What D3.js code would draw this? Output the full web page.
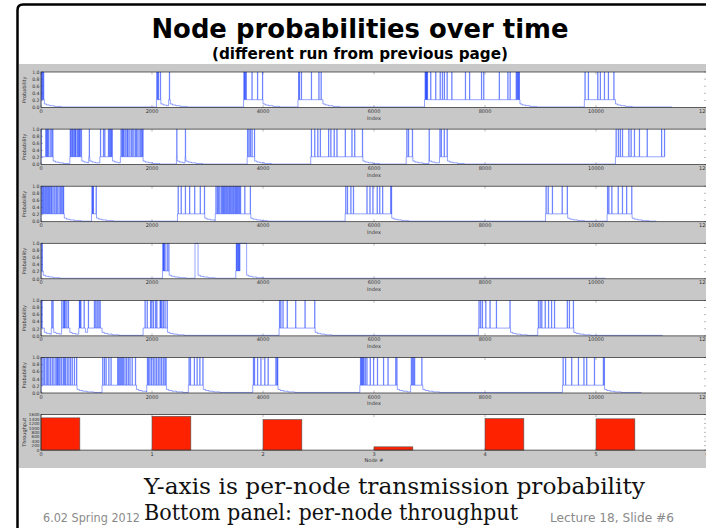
<!DOCTYPE html>
<html>
<head>
<meta charset="utf-8">
<title>Node probabilities over time</title>
<script src="https://cdn.jsdelivr.net/npm/d3@7"></script>
<style>
  body { margin: 0; background: #fff; }
  svg { display: block; }
</style>
</head>
<body>
<svg id="chart" width="706" height="528"></svg>
<script>
// axis ticks
const indexTicks = [0, 2000, 4000, 6000, 8000, 10000, 12000];
const probTicks = [0, 0.2, 0.4, 0.6, 0.8, 1.0];
const nodeTicks = [0, 1, 2, 3, 4, 5, 6];
const throughputTicks = [0, 200, 400, 600, 800, 1000, 1200, 1400, 1600];

// bottom panel: per-node throughput
const throughput = [1453, 1524, 1378, 147, 1422, 1409];

// levels
const floorLevel = 0.22;   // level between spikes inside a busy period
const baseLevel = 0.015;   // idle level
const spikeLen = 6;        // indices a spike stays at 1.0
const tailSteps = [[0, 0.1], [40, 0.07], [100, 0.05], [180, 0.03], [300, 0.015]];

// busy periods [start, end, level?] and spikes (index where p hits 1.0), per node
const node0Bursts = [[0, 60], [2080, 2160], [2300, 2330], [3650, 4000], [4630, 5080], [6910, 8630], [9790, 10350]];
const node0Spikes = [0, 15, 30, 45, 2085, 2100, 2115, 2150, 2312, 3655, 3665, 3680, 3695, 3800, 3900, 3990,
  4640, 4655, 4690, 4870, 5005, 5045, 6920, 6930, 6940, 6950, 6960, 7020, 7110, 7190, 7230, 7265, 7315, 7400,
  7645, 7720, 7935, 7975, 8255, 8410, 8450, 8560, 8575, 8590, 8605, 8615, 9800, 9860, 10030, 10075, 10150, 10220, 10320];

const node1Bursts = [[0, 220], [520, 735], [860, 880], [1060, 1290], [1430, 1840], [2440, 2455], [2595, 2610],
  [3715, 3850], [4860, 5800], [6580, 6700], [6990, 7000], [7180, 7325], [10350, 11240]];
const node1Spikes = [0, 84, 100, 114, 130, 162, 192, 210, 525, 540, 560, 575, 596, 615, 627, 655, 673, 690, 703, 726,
  868, 1070, 1123, 1147, 1213, 1230, 1250, 1265, 1280, 1440, 1460, 1475, 1490, 1515, 1545, 1560, 1585, 1620, 1640,
  1670, 1700, 1720, 1745, 1780, 1800, 1820, 1835, 2445, 2600, 3720, 3745, 3770, 3800, 3845, 4870, 4930, 4985, 5030,
  5180, 5220, 5280, 5330, 5480, 5600, 5650, 5790, 6590, 6620, 6690, 6992, 7186, 7210, 7263, 7316,
  10360, 10400, 10435, 10475, 10590, 10630, 10690, 10780, 10920, 11180, 11232];

const node2Bursts = [[0, 420], [910, 1000], [2460, 2950], [3140, 3780], [5480, 6320], [9090, 9490], [10200, 10650]];
const node2Spikes = [0, 20, 38, 55, 76, 95, 115, 135, 153, 175, 191, 215, 245, 270, 290, 321, 345, 367, 390, 405,
  917, 930, 940, 992, 2469, 2523, 2599, 2676, 2767, 2867, 2943, 3150, 3175, 3196, 3220, 3249, 3270, 3287, 3305,
  3326, 3345, 3364, 3385, 3402, 3420, 3440, 3460, 3478, 3500, 3517, 3535, 3555, 3575, 3593, 3670, 3769,
  5489, 5520, 5581, 5627, 5871, 5925, 5978, 6055, 6101, 6154, 6300, 6313, 9098, 9136, 9212, 9388, 9480,
  10206, 10229, 10283, 10397, 10474, 10550, 10642];

const node3Bursts = [[0, 40], [2190, 2310], [2775, 2830, 1], [3510, 3585], [3585, 3705, 1]];
const node3Spikes = [0, 20, 2194, 2205, 2215, 2232, 2271, 2301, 3517, 3530, 3545, 3560, 3572];

const node4Bursts = [[0, 60], [185, 230], [370, 520], [680, 800], [840, 1100], [1840, 2280], [4290, 4940],
  [7880, 8460], [8950, 9600]];
const node4Spikes = [0, 15, 193, 214, 373, 402, 420, 432, 463, 492, 690, 700, 715, 775, 852, 960, 985, 1010, 1040,
  1063, 1873, 1911, 1972, 1995, 2026, 2064, 2085, 2144, 2156, 2175, 2202, 2232, 2271, 4296, 4319, 4358, 4434,
  4587, 4755, 4930, 7890, 7920, 7951, 8012, 8088, 8203, 8448, 8960, 8991, 9021, 9082, 9143, 9197, 9250, 9480,
  9518, 9590];

const node5Bursts = [[0, 650], [1100, 1720], [1905, 2260], [2655, 2925], [3815, 4270], [5745, 6420], [6660, 6880],
  [9395, 10155]];
const node5Spikes = [10, 35, 60, 90, 115, 140, 170, 200, 230, 265, 285, 300, 320, 340, 370, 400, 420, 440, 470,
  500, 530, 560, 600, 640, 1110, 1140, 1170, 1220, 1260, 1380, 1400, 1420, 1440, 1460, 1480, 1510, 1540, 1570,
  1600, 1640, 1700, 1915, 1935, 1960, 1990, 2020, 2050, 2080, 2110, 2140, 2170, 2200, 2230, 2250,
  2665, 2690, 2760, 2810, 2860, 2915, 3825, 3845, 3900, 3960, 4030, 4090, 4230, 4250, 4262,
  5755, 5770, 5785, 5800, 5815, 5840, 5870, 5930, 5990, 6060, 6170, 6250, 6390, 6410,
  6670, 6690, 6710, 6730, 6860, 9405, 9450, 9560, 9680, 9780, 9830, 9970, 10130, 10148];

// last index drawn for each node
const nodeEnds = [11370, 11240, 11085, 10170, 11200, 10820];

const allBursts = [node0Bursts, node1Bursts, node2Bursts, node3Bursts, node4Bursts, node5Bursts];
const allSpikes = [node0Spikes, node1Spikes, node2Spikes, node3Spikes, node4Spikes, node5Spikes];

// ---- layout ----
const svg = d3.select('#chart');
const plotLeft = 41, plotRight = 707;
const panelTop0 = 72, panelStep = 57.1, panelH = 35.5;
const tickFont = 'DejaVu Sans';

// turn bursts + spikes into a step series
function buildTrace(bursts, spikes, end) {
  const pts = [[0, baseLevel]];
  bursts.forEach(function(b, i) {
    const s = b[0], e = b[1];
    const lvl = b.length > 2 ? b[2] : floorLevel;
    const next = i + 1 < bursts.length ? bursts[i + 1][0] : end;
    pts.push([s, lvl]);
    spikes.filter(t => t >= s && t < e).forEach(t => {
      pts.push([t, 1]);
      pts.push([Math.min(t + spikeLen, e), lvl]);
    });
    tailSteps.forEach(function(ts) {
      if (e + ts[0] < next) pts.push([e + ts[0], ts[1]]);
    });
  });
  pts.push([end, pts[pts.length - 1][1]]);
  return pts;
}

// slide frame + gray figure area
svg.append('rect').attr('x', 19).attr('y', 64).attr('width', 690).attr('height', 404).attr('fill', '#c8c8c8');
svg.append('path')
  .attr('d', 'M17.5,530 L17.5,10 Q17.5,4.5 23,4.5 L710,4.5')
  .attr('fill', 'none').attr('stroke', '#000').attr('stroke-width', 2.5);

svg.append('text').attr('x', 360).attr('y', 38).attr('text-anchor', 'middle')
  .style('font-family', 'DejaVu Sans').style('font-weight', 'bold').style('font-size', '26px')
  .attr('textLength', 417).attr('lengthAdjust', 'spacingAndGlyphs')
  .text('Node probabilities over time');
svg.append('text').attr('x', 360).attr('y', 59).attr('text-anchor', 'middle')
  .style('font-family', 'DejaVu Sans').style('font-weight', 'bold').style('font-size', '15px')
  .attr('textLength', 296).attr('lengthAdjust', 'spacingAndGlyphs')
  .text('(different run from previous page)');

function drawFrame(g, x, y, top, bottom, xt, yt, xFmt, yFmt, xName, yName, yLabelSize) {
  g.append('rect').attr('x', plotLeft).attr('y', top).attr('width', plotRight - plotLeft).attr('height', bottom - top)
    .attr('fill', '#fff');
  // inward ticks, left/right and top/bottom
  yt.forEach(v => {
    g.append('line').attr('x1', plotLeft).attr('x2', plotLeft + 2).attr('y1', y(v)).attr('y2', y(v))
      .attr('stroke', '#777').attr('stroke-width', 0.5);
    g.append('line').attr('x1', plotRight - 3).attr('x2', plotRight).attr('y1', y(v)).attr('y2', y(v))
      .attr('stroke', '#777').attr('stroke-width', 0.5);
    g.append('text').attr('x', plotLeft - 1.5).attr('y', y(v) + 1.7).attr('text-anchor', 'end')
      .style('font-family', tickFont).style('font-size', yLabelSize + 'px').attr('fill', '#333').text(yFmt(v));
  });
  xt.forEach(v => {
    g.append('line').attr('x1', x(v)).attr('x2', x(v)).attr('y1', bottom).attr('y2', bottom - 2.5)
      .attr('stroke', '#777').attr('stroke-width', 0.5);
    g.append('line').attr('x1', x(v)).attr('x2', x(v)).attr('y1', top).attr('y2', top + 2.5)
      .attr('stroke', '#777').attr('stroke-width', 0.5);
    // the last label sits on the right edge and is cut off, as on the slide
    g.append('text').attr('x', x(v)).attr('y', bottom + 5.5).attr('text-anchor', 'middle')
      .style('font-family', tickFont).style('font-size', '5px').attr('fill', '#333').text(xFmt(v));
  });
  g.append('text').attr('x', x.range()[0] + 333).attr('y', bottom + 12).attr('text-anchor', 'middle')
    .style('font-family', tickFont).style('font-size', '5px').attr('fill', '#333').text(xName);
  g.append('text').attr('transform', 'translate(26,' + ((top + bottom) / 2) + ') rotate(-90)')
    .attr('text-anchor', 'middle').style('font-family', tickFont).style('font-size', '5px').attr('fill', '#333')
    .text(yName);
}

const xIdx = d3.scaleLinear().domain([0, 12000]).range([plotLeft, plotRight]);
const line = d3.line().curve(d3.curveStepAfter);

allBursts.forEach(function(bursts, k) {
  const top = panelTop0 + k * panelStep, bottom = top + panelH;
  const y = d3.scaleLinear().domain([0, 1]).range([bottom, top]);
  const g = svg.append('g');
  drawFrame(g, xIdx, y, top, bottom, indexTicks, probTicks, d3.format('d'), d3.format('.1f'), 'Index', 'Probability', 4.6);

  const clipId = 'clip' + k;
  g.append('clipPath').attr('id', clipId).append('rect')
    .attr('x', plotLeft).attr('y', top - 1).attr('width', plotRight - plotLeft).attr('height', panelH + 1);
  const trace = buildTrace(bursts, allSpikes[k], nodeEnds[k]);
  g.append('path').attr('clip-path', 'url(#' + clipId + ')')
    .attr('d', line.x(d => xIdx(d[0])).y(d => y(d[1]))(trace))
    .attr('fill', 'none').attr('stroke', '#1a3cff').attr('stroke-width', 0.55).attr('stroke-opacity', 0.85);

  g.append('rect').attr('x', plotLeft).attr('y', top).attr('width', plotRight - plotLeft).attr('height', panelH)
    .attr('fill', 'none').attr('stroke', '#222').attr('stroke-width', 0.7);
});

// throughput panel
(function() {
  const top = panelTop0 + 6 * panelStep, bottom = top + panelH;
  const x = d3.scaleLinear().domain([0, 6]).range([plotLeft, plotRight]);
  const y = d3.scaleLinear().domain([0, 1600]).range([bottom, top]);
  const g = svg.append('g');
  drawFrame(g, x, y, top, bottom, nodeTicks, throughputTicks, d3.format('d'), d3.format('d'), 'Node #', 'Throughput', 4.2);
  g.selectAll('rect.bar').data(throughput).enter().append('rect').attr('class', 'bar')
    .attr('x', (d, i) => x(i)).attr('width', x(0.35) - x(0))
    .attr('y', d => y(d)).attr('height', d => bottom - y(d))
    .attr('fill', '#ff2200').attr('stroke', '#555').attr('stroke-width', 0.6);
  g.append('rect').attr('x', plotLeft).attr('y', top).attr('width', plotRight - plotLeft).attr('height', panelH)
    .attr('fill', 'none').attr('stroke', '#222').attr('stroke-width', 0.7);
})();

// caption + footer
svg.append('text').attr('x', 144).attr('y', 494)
  .style('font-family', 'DejaVu Serif').style('font-size', '22px').attr('fill', '#111')
  .attr('textLength', 501).attr('lengthAdjust', 'spacingAndGlyphs')
  .text('Y-axis is per-node transmission probability');
svg.append('text').attr('x', 144).attr('y', 520)
  .style('font-family', 'DejaVu Serif').style('font-size', '22px').attr('fill', '#111')
  .attr('textLength', 374).attr('lengthAdjust', 'spacingAndGlyphs')
  .text('Bottom panel: per-node throughput');
svg.append('text').attr('x', 43).attr('y', 522)
  .style('font-family', 'DejaVu Sans').style('font-size', '11.5px').attr('fill', '#8a8a8a')
  .attr('textLength', 97).attr('lengthAdjust', 'spacingAndGlyphs')
  .text('6.02 Spring 2012');
svg.append('text').attr('x', 550).attr('y', 522)
  .style('font-family', 'DejaVu Sans').style('font-size', '11.5px').attr('fill', '#8a8a8a')
  .attr('textLength', 124).attr('lengthAdjust', 'spacingAndGlyphs')
  .text('Lecture 18, Slide #6');
</script>
</body>
</html>
